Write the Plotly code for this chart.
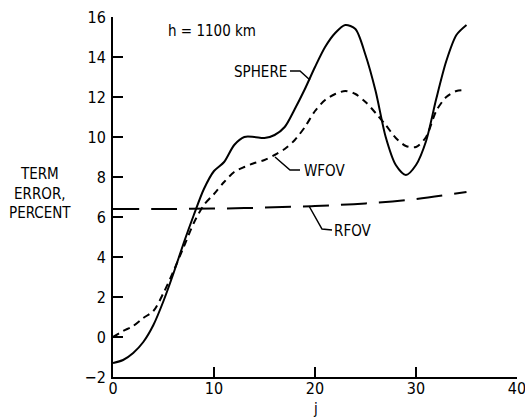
import plotly.graph_objects as go

# ---- data ----
j_vals = list(range(0, 36))
sphere = [-1.3, -1.15, -0.8, -0.25, 0.6, 1.8, 3.2, 4.7, 6.1, 7.4, 8.3, 8.75, 9.6, 10.0, 10.0, 9.95,
          10.1, 10.5, 11.4, 12.4, 13.5, 14.5, 15.2, 15.6, 15.4, 14.1, 12.3, 10.0, 8.6, 8.1,
          8.6, 9.8, 11.9, 13.8, 15.1, 15.6]
wfov = [0.0, 0.3, 0.55, 0.95, 1.3, 2.2, 3.3, 4.5, 5.7, 6.6, 7.15, 7.75, 8.25, 8.5, 8.7, 8.85,
        9.1, 9.4, 9.85, 10.5, 11.3, 11.85, 12.15, 12.3, 12.15, 11.75, 11.2, 10.6, 9.95, 9.55,
        9.5, 10.0, 11.3, 12.0, 12.3, 12.35]
rfov_j = [0, 5, 10, 15, 20, 25, 30, 35]
rfov = [6.4, 6.4, 6.42, 6.47, 6.55, 6.68, 6.9, 7.25]

x_ticks = [0, 10, 20, 30, 40]
y_ticks = [-2, 0, 2, 4, 6, 8, 10, 12, 14, 16]

FONT = "DejaVu Sans Condensed, DejaVu Sans, sans-serif"

# pixel -> data helpers for label/leader placement
def px2x(px):
    return (px - 113) / 10.1

def py2y(py):
    return (335 - py) / 20.0

fig = go.Figure()
fig.add_trace(go.Scatter(x=j_vals, y=sphere, mode="lines", line=dict(color="black", width=2, shape="spline", smoothing=0.8)))
fig.add_trace(go.Scatter(x=j_vals, y=wfov, mode="lines", line=dict(color="black", width=2, dash="7px,5px", shape="spline", smoothing=0.8)))
fig.add_trace(go.Scatter(x=rfov_j, y=rfov, mode="lines", line=dict(color="black", width=2, dash="26px,12px", shape="spline")))

# leader lines
leaders = [
    [(290, 69), (300, 69), (310, 78)],
    [(275, 155), (290, 168), (300, 168)],
    [(309, 204), (322, 227), (332, 228)],
]
for pts in leaders:
    path = "M " + " L ".join(f"{px2x(a)},{py2y(b)}" for a, b in pts)
    fig.add_shape(type="path", path=path, xref="x", yref="y", line=dict(color="black", width=1.5))

labels = [
    ("SPHERE", 289, 70, "right"),
    ("WFOV", 302, 169, "left"),
    ("RFOV", 332, 229, "left"),
    ("h = 1100 km", 166, 29, "left"),
]
for txt, px, py, anc in labels:
    fig.add_annotation(x=px2x(px), y=py2y(py), xref="x", yref="y", text=txt, showarrow=False,
                       xanchor=anc, yanchor="middle", font=dict(family=FONT, size=15, color="black"))

# y-axis title (three lines, left of the axis)
fig.add_annotation(x=(40 - 113) / 404, y=(377 - 193) / 360, xref="paper", yref="paper",
                   text="TERM<br>ERROR,<br>PERCENT", showarrow=False, align="center",
                   xanchor="center", yanchor="middle", font=dict(family=FONT, size=15, color="black"))
# x-axis title
fig.add_annotation(x=0.5, y=(377 - 409) / 360, xref="paper", yref="paper", text="j", showarrow=False,
                   xanchor="center", yanchor="middle", font=dict(family=FONT, size=15, color="black"))

fig.update_layout(
    width=525, height=417,
    margin=dict(l=113, r=8, t=17, b=40, autoexpand=False),
    paper_bgcolor="white", plot_bgcolor="white",
    showlegend=False,
    font=dict(family=FONT, size=16, color="black"),
)
fig.update_xaxes(range=[0, 40], tickvals=x_ticks, ticks="inside", ticklen=10, tickwidth=2, tickcolor="black",
                 showline=True, linecolor="black", linewidth=2, showgrid=False, zeroline=False,
                 automargin=False, ticklabeloverflow="allow", ticklabelstandoff=-4,
                 tickfont=dict(family=FONT, size=16, color="black"))
fig.update_yaxes(range=[-2, 16], tickvals=y_ticks, ticks="inside", ticklen=10, tickwidth=2, tickcolor="black",
                 showline=True, linecolor="black", linewidth=2, showgrid=False, zeroline=False,
                 automargin=False, ticklabeloverflow="allow", ticklabelstandoff=2,
                 tickfont=dict(family=FONT, size=16, color="black"))

fig.write_html("out.html")
